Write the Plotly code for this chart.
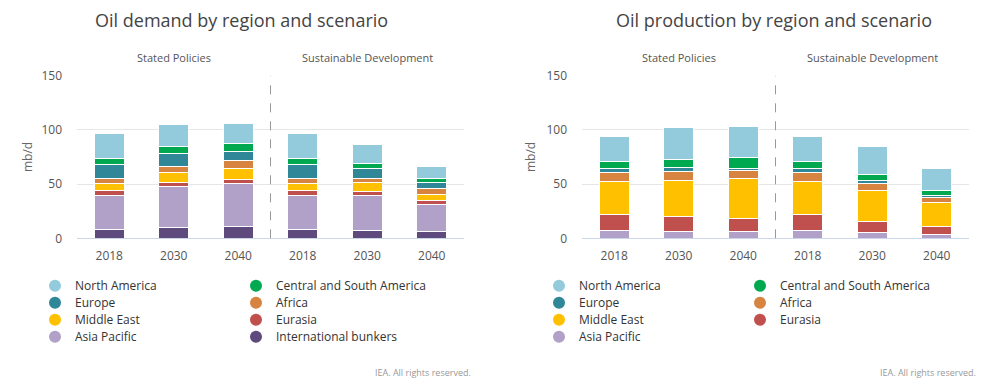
import plotly.graph_objects as go

# ---------------- data ----------------
years = ["2018", "2030", "2040", "2018", "2030", "2040"]
scenarios = ["Stated Policies"] * 3 + ["Sustainable Development"] * 3
categories = [f"{s} {y}" for s, y in zip(scenarios, years)]
y_ticks = [0, 50, 100, 150]

# Oil demand (mb/d)
dem_bunkers = [8.3, 10.2, 11.1, 8.3, 7.4, 6.5]
dem_asia_pacific = [31.5, 37.9, 39.8, 31.5, 32.4, 25.0]
dem_eurasia = [4.0, 3.8, 3.4, 4.0, 3.7, 3.7]
dem_middle_east = [7.1, 9.2, 10.2, 7.1, 7.7, 5.5]
dem_africa = [4.3, 5.3, 7.4, 4.3, 4.0, 5.3]
dem_europe = [13.3, 11.4, 8.3, 13.3, 9.3, 5.5]
dem_csam = [5.2, 6.5, 6.8, 5.2, 4.9, 3.7]
dem_north_america = [22.8, 20.6, 18.9, 22.8, 17.0, 10.8]

# Oil production (mb/d)
prod_asia_pacific = [7.4, 6.5, 6.5, 7.4, 5.6, 3.7]
prod_eurasia = [14.8, 13.9, 11.7, 14.8, 10.1, 7.4]
prod_middle_east = [30.6, 33.3, 36.7, 30.6, 28.7, 22.2]
prod_africa = [8.3, 8.3, 8.0, 8.3, 6.5, 4.4]
prod_europe = [3.7, 3.1, 1.5, 3.7, 2.8, 1.8]
prod_csam = [6.5, 8.0, 10.5, 6.5, 5.6, 4.9]
prod_north_america = [22.8, 29.4, 28.4, 22.8, 25.6, 19.8]

colors = {
    "North America": "#93cbdc",
    "Central and South America": "#00a94f",
    "Europe": "#2f8797",
    "Africa": "#d6843f",
    "Middle East": "#ffc000",
    "Eurasia": "#c0504d",
    "Asia Pacific": "#b1a0c7",
    "International bunkers": "#5e4a7c",
}

demand_series = [
    ("International bunkers", dem_bunkers),
    ("Asia Pacific", dem_asia_pacific),
    ("Eurasia", dem_eurasia),
    ("Middle East", dem_middle_east),
    ("Africa", dem_africa),
    ("Europe", dem_europe),
    ("Central and South America", dem_csam),
    ("North America", dem_north_america),
]
production_series = [
    ("Asia Pacific", prod_asia_pacific),
    ("Eurasia", prod_eurasia),
    ("Middle East", prod_middle_east),
    ("Africa", prod_africa),
    ("Europe", prod_europe),
    ("Central and South America", prod_csam),
    ("North America", prod_north_america),
]

demand_legend_rows = [
    ["North America", "Central and South America"],
    ["Europe", "Africa"],
    ["Middle East", "Eurasia"],
    ["Asia Pacific", "International bunkers"],
]
production_legend_rows = [
    ["North America", "Central and South America"],
    ["Europe", "Africa"],
    ["Middle East", "Eurasia"],
    ["Asia Pacific"],
]

# ---------------- figure ----------------
W, H = 992, 389
FONT = "Open Sans"
fig = go.Figure()


def px_x(p):
    return p / W


def px_y(p):
    return (H - p) / H


panels = [
    dict(series=demand_series, rows=demand_legend_rows, xa="x", ya="y",
         title="Oil demand by region and scenario", left=77, right=464,
         title_x=93, legend_text_x=75, col_gap=196, axis_title_x=27, credit_x=473),
    dict(series=production_series, rows=production_legend_rows, xa="x2", ya="y2",
         title="Oil production by region and scenario", left=582, right=969,
         title_x=614, legend_text_x=579, col_gap=196, axis_title_x=530, credit_x=978),
]

legend_idx = 0
for pi, p in enumerate(panels):
    for name, vals in p["series"]:
        fig.add_trace(go.Bar(
            x=categories, y=vals, name=name, xaxis=p["xa"], yaxis=p["ya"],
            marker=dict(color=colors[name], line=dict(color="white", width=1)),
            showlegend=False,
        ))
    row_y = [285.7, 302.7, 319.7, 336.7]
    for ri, row in enumerate(p["rows"]):
        legend_idx += 1
        lname = "legend" if legend_idx == 1 else f"legend{legend_idx}"
        for name in row:
            fig.add_trace(go.Scatter(
                x=[None], y=[None], mode="markers", name=name,
                marker=dict(color=colors[name], size=12, symbol="circle"),
                xaxis=p["xa"], yaxis=p["ya"], legend=lname, showlegend=True,
            ))
        fig.update_layout(**{lname: dict(
            orientation="h", traceorder="normal",
            x=px_x(p["legend_text_x"] - 40), y=px_y(row_y[ri]),
            xanchor="left", yanchor="middle", xref="paper", yref="paper",
            entrywidth=p["col_gap"] - 40, entrywidthmode="pixels",
            font=dict(family=FONT, size=12, color="#333333"),
            bgcolor="rgba(0,0,0,0)", borderwidth=0, itemclick=False,
        )})

    axis_suffix = "" if pi == 0 else "2"
    fig.update_layout(**{
        f"xaxis{axis_suffix}": dict(
            domain=[px_x(p["left"]), px_x(p["right"])], anchor=p["ya"],
            type="category", tickvals=categories, ticktext=years,
            tickfont=dict(family=FONT, size=12, color="#555555"),
            showgrid=False, showline=True, linecolor="#ccd6eb", linewidth=1,
            ticks="", ticklabelstandoff=6, fixedrange=True, automargin=False,
        ),
        f"yaxis{axis_suffix}": dict(
            domain=[px_y(238.3), px_y(75.7)], anchor=p["xa"],
            range=[0, 150], tickvals=y_ticks,
            tickfont=dict(family=FONT, size=12, color="#555555"),
            showgrid=True, gridcolor="#e6e6e6", gridwidth=1, zeroline=False,
            ticks="", ticklabelstandoff=14, fixedrange=True, automargin=False,
        ),
    })

    # separator between scenarios
    fig.add_shape(type="line", xref=p["xa"], yref=p["ya"], x0=2.5, x1=2.5, y0=0, y1=150,
                  line=dict(color="#999999", width=1, dash="dash"))
    # scenario labels
    for ci, lab in [(1, "Stated Policies"), (4, "Sustainable Development")]:
        fig.add_annotation(text=lab, xref=p["xa"], x=categories[ci], yref="paper", y=px_y(57),
                           showarrow=False, xanchor="center", yanchor="middle",
                           font=dict(family=FONT, size=11, color="#555555"))
    # title
    fig.add_annotation(text=p["title"], xref="paper", x=px_x(p["title_x"]), yref="paper", y=px_y(20),
                       showarrow=False, xanchor="left", yanchor="middle",
                       font=dict(family=FONT, size=18, color="#444444"))
    # axis title
    fig.add_annotation(text="mb/d", xref="paper", x=px_x(p["axis_title_x"]), yref="paper", y=px_y(157),
                       showarrow=False, xanchor="center", yanchor="middle", textangle=-90,
                       font=dict(family=FONT, size=12, color="#666666"))
    # credit
    fig.add_annotation(text="IEA. All rights reserved.", xref="paper", x=px_x(p["credit_x"]),
                       yref="paper", y=px_y(372), showarrow=False, xanchor="right", yanchor="middle",
                       font=dict(family=FONT, size=9, color="#999999"))

fig.update_layout(
    width=W, height=H, margin=dict(l=0, r=0, t=0, b=0, autoexpand=False),
    barmode="stack", bargap=0.535,
    paper_bgcolor="white", plot_bgcolor="white",
    font=dict(family=FONT, color="#555555"),
)

fig.write_html("out.html", config={"displayModeBar": False},
               post_script="document.body.style.margin='0';document.body.style.overflow='hidden';")
